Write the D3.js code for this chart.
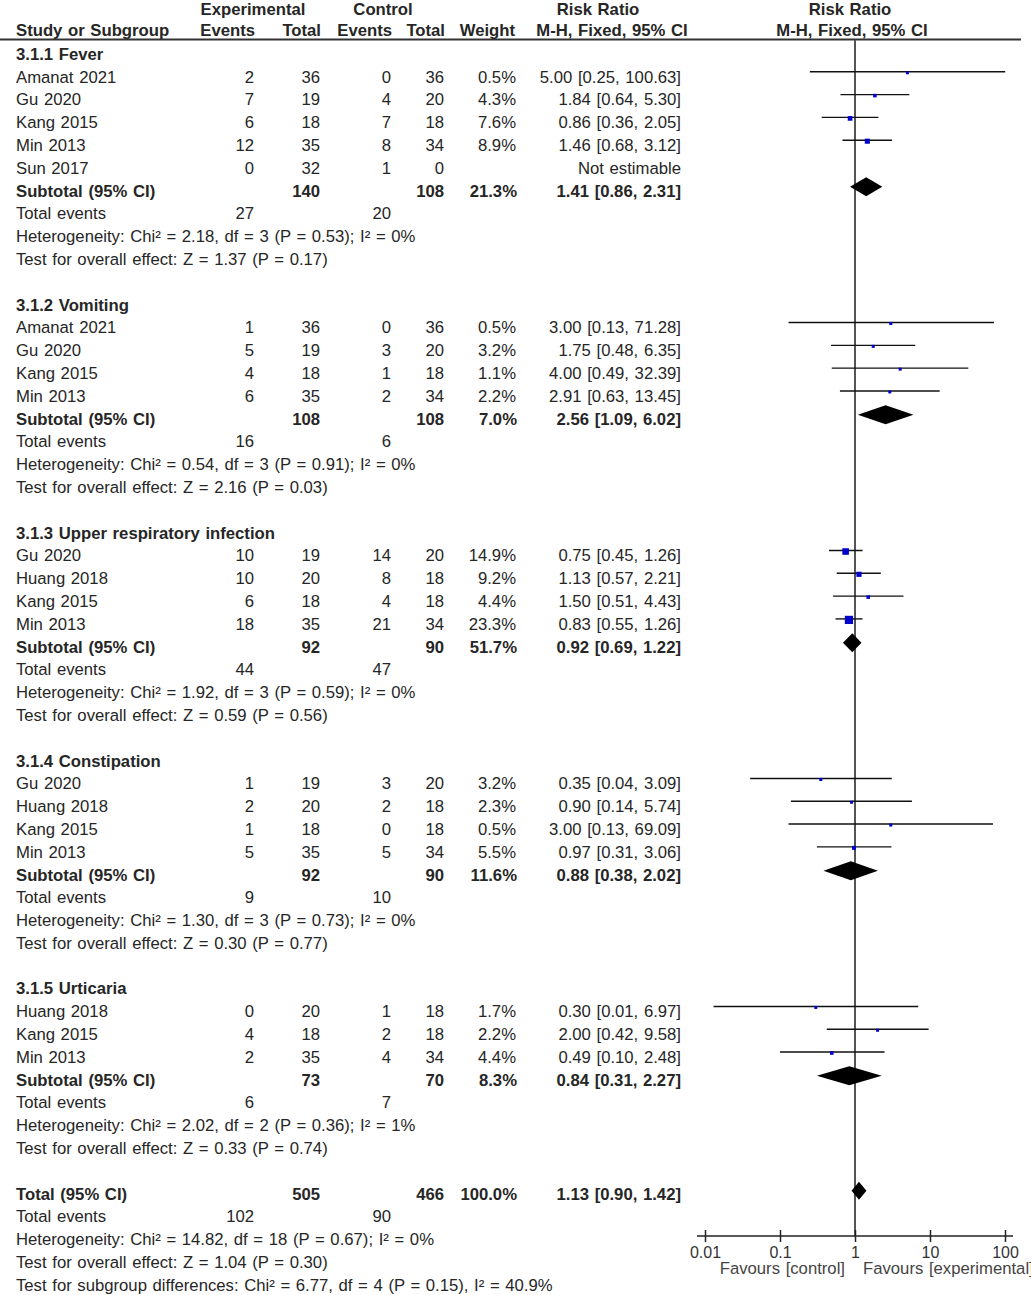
<!DOCTYPE html>
<html><head><meta charset="utf-8">
<script src="https://cdn.jsdelivr.net/npm/d3@7"></script>
<style>
html,body{margin:0;padding:0;background:#fff;overflow:hidden}
text{font-family:"Liberation Sans",Arial,Helvetica,sans-serif;font-size:16.7px;fill:#262626;word-spacing:1px}
.b{font-weight:bold}
</style>
</head><body><svg id="c" width="1031" height="1295"></svg>
<script>
// ---------- data ----------
const groupNames = ["3.1.1 Fever","3.1.2 Vomiting","3.1.3 Upper respiratory infection","3.1.4 Constipation","3.1.5 Urticaria"];
const studyNames = ["Amanat 2021","Gu 2020","Kang 2015","Min 2013","Sun 2017",
  "Amanat 2021","Gu 2020","Kang 2015","Min 2013",
  "Gu 2020","Huang 2018","Kang 2015","Min 2013",
  "Gu 2020","Huang 2018","Kang 2015","Min 2013",
  "Huang 2018","Kang 2015","Min 2013"];
const studyGroup = [0,0,0,0,0, 1,1,1,1, 2,2,2,2, 3,3,3,3, 4,4,4];
const expEvents = [2,7,6,12,0, 1,5,4,6, 10,10,6,18, 1,2,1,5, 0,4,2];
const expTotal  = [36,19,18,35,32, 36,19,18,35, 19,20,18,35, 19,20,18,35, 20,18,35];
const ctlEvents = [0,4,7,8,1, 0,3,1,2, 14,8,4,21, 3,2,0,5, 1,2,4];
const ctlTotal  = [36,20,18,34,0, 36,20,18,34, 20,18,18,34, 20,18,18,34, 18,18,34];
const weights   = [0.5,4.3,7.6,8.9,null, 0.5,3.2,1.1,2.2, 14.9,9.2,4.4,23.3, 3.2,2.3,0.5,5.5, 1.7,2.2,4.4];
const rr        = [5.00,1.84,0.86,1.46,null, 3.00,1.75,4.00,2.91, 0.75,1.13,1.50,0.83, 0.35,0.90,3.00,0.97, 0.30,2.00,0.49];
const rrLo      = [0.25,0.64,0.36,0.68,null, 0.13,0.48,0.49,0.63, 0.45,0.57,0.51,0.55, 0.04,0.14,0.13,0.31, 0.013,0.42,0.10];
const rrHi      = [100.63,5.30,2.05,3.12,null, 71.28,6.35,32.39,13.45, 1.26,2.21,4.43,1.26, 3.09,5.74,69.09,3.06, 6.97,9.58,2.48];

const subExpTotal = [140,108,92,92,73];
const subCtlTotal = [108,108,90,90,70];
const subWeight   = [21.3,7.0,51.7,11.6,8.3];
const subRR       = [1.41,2.56,0.92,0.88,0.84];
const subLo       = [0.86,1.09,0.69,0.38,0.31];
const subHi       = [2.31,6.02,1.22,2.02,2.27];
const subExpEvents= [27,16,44,9,6];
const subCtlEvents= [20,6,47,10,7];
const hetChi = [2.18,0.54,1.92,1.30,2.02];
const hetDf  = [3,3,3,3,2];
const hetP   = [0.53,0.91,0.59,0.73,0.36];
const hetI2  = [0,0,0,0,1];
const testZ  = [1.37,2.16,0.59,0.30,0.33];
const testP  = [0.17,0.03,0.56,0.77,0.74];

const totalCounts = [505,466];        // exp total, ctl total
const totalEvents = [102,90];
const totalRR = [1.13,0.90,1.42];     // est, lo, hi
const totalWeight = 100.0;
const totalHet = [14.82,18,0.67,0];   // chi2, df, P, I2
const totalTest = [1.04,0.30];        // Z, P
const subgroupDiff = [6.77,4,0.15,40.9];

const tickValues = [0.01,0.1,1,10,100];
const tickLabels = ["0.01","0.1","1","10","100"];
const favourLabels = ["Favours [control]","Favours [experimental]"];

// ---------- layout ----------
const svg = d3.select("#c");
const x = d3.scaleLog().domain([0.01,100]).range([705,1005]);
const yRow = d3.scaleLinear().domain([0,54]).range([54,1285]);
const col = {label:16, expE:254, expT:320, ctlE:391, ctlT:444, w:516, ci:681};
const f2 = v => v.toFixed(2);
const ciText = (e,l,h) => `${f2(e)} [${f2(l)}, ${f2(h)}]`;

// build rows
const rows = [];
let r = 0;
groupNames.forEach((g,gi) => {
  rows.push({type:"group", idx:r++, label:g});
  studyNames.forEach((s,si) => {
    if (studyGroup[si] !== gi) return;
    rows.push({type:"study", idx:r++, si});
  });
  rows.push({type:"subtotal", idx:r++, gi});
  rows.push({type:"events", idx:r++, a:subExpEvents[gi], b:subCtlEvents[gi]});
  rows.push({type:"note", idx:r++, label:`Heterogeneity: Chi² = ${f2(hetChi[gi])}, df = ${hetDf[gi]} (P = ${f2(hetP[gi])}); I² = ${hetI2[gi]}%`});
  rows.push({type:"note", idx:r++, label:`Test for overall effect: Z = ${f2(testZ[gi])} (P = ${f2(testP[gi])})`});
  r++; // blank
});
rows.push({type:"total", idx:r++});
rows.push({type:"events", idx:r++, a:totalEvents[0], b:totalEvents[1]});
rows.push({type:"note", idx:r++, label:`Heterogeneity: Chi² = ${f2(totalHet[0])}, df = ${totalHet[1]} (P = ${f2(totalHet[2])}); I² = ${totalHet[3]}%`});
rows.push({type:"note", idx:r++, label:`Test for overall effect: Z = ${f2(totalTest[0])} (P = ${f2(totalTest[1])})`});
rows.push({type:"note", idx:r++, label:`Test for subgroup differences: Chi² = ${f2(subgroupDiff[0])}, df = ${subgroupDiff[1]} (P = ${f2(subgroupDiff[2])}), I² = ${subgroupDiff[3]}%`});

// ---------- header ----------
const H = svg.append("g");
function txt(g, xx, yy, s, anchor, bold){
  g.append("text").attr("x",xx).attr("y",yy).attr("dy","0.35em")
   .attr("text-anchor",anchor||"start").attr("class",bold?"b":null).text(s);
}
const hy1 = 9.5, hy2 = 30;
txt(H,253,hy1,"Experimental","middle",true);
txt(H,383,hy1,"Control","middle",true);
txt(H,598,hy1,"Risk Ratio","middle",true);
txt(H,850,hy1,"Risk Ratio","middle",true);
txt(H,col.label,hy2,"Study or Subgroup","start",true);
txt(H,255,hy2,"Events","end",true);
txt(H,321,hy2,"Total","end",true);
txt(H,392,hy2,"Events","end",true);
txt(H,445,hy2,"Total","end",true);
txt(H,515,hy2,"Weight","end",true);
txt(H,612,hy2,"M-H, Fixed, 95% CI","middle",true);
txt(H,852,hy2,"M-H, Fixed, 95% CI","middle",true);
H.append("line").attr("x1",0).attr("x2",1021).attr("y1",39.5).attr("y2",39.5)
 .attr("stroke","#333").attr("stroke-width",2);

// ---------- null line ----------
const axisY = 1236;
svg.append("line").attr("x1",x(1)).attr("x2",x(1)).attr("y1",40).attr("y2",axisY)
  .attr("stroke","#555").attr("stroke-width",2);

// ---------- rows ----------
const T = svg.append("g");
const P = svg.append("g");
const sqSize = w => Math.max(3, 1.7*Math.sqrt(w));
function diamond(yc, e, l, h, hh){
  const pts = [[x(l),yc],[x(e),yc-hh],[x(h),yc],[x(e),yc+hh]];
  P.append("path").attr("d", d3.line()(pts)+"Z").attr("fill","#000");
}
rows.forEach(row => {
  const yc = yRow(row.idx);
  if (row.type==="group") txt(T,col.label,yc,row.label,"start",true);
  else if (row.type==="study") {
    const i = row.si;
    txt(T,col.label,yc,studyNames[i]);
    txt(T,col.expE,yc,expEvents[i],"end");
    txt(T,col.expT,yc,expTotal[i],"end");
    txt(T,col.ctlE,yc,ctlEvents[i],"end");
    txt(T,col.ctlT,yc,ctlTotal[i],"end");
    if (weights[i]!=null) {
      txt(T,col.w,yc,weights[i].toFixed(1)+"%","end");
      txt(T,col.ci,yc,ciText(rr[i],rrLo[i],rrHi[i]),"end");
      P.append("line").attr("x1",x(rrLo[i])).attr("x2",x(rrHi[i]))
        .attr("y1",yc-5).attr("y2",yc-5).attr("stroke","#111").attr("stroke-width",1.4);
      const s = sqSize(weights[i]);
      P.append("rect").attr("x",x(rr[i])-s/2).attr("y",yc-4-s/2).attr("width",s).attr("height",s)
        .attr("fill","#0000cc");
    } else {
      txt(T,col.ci,yc,"Not estimable","end");
    }
  } else if (row.type==="subtotal") {
    const gi = row.gi;
    txt(T,col.label,yc,"Subtotal (95% CI)","start",true);
    txt(T,col.expT,yc,subExpTotal[gi],"end",true);
    txt(T,col.ctlT,yc,subCtlTotal[gi],"end",true);
    txt(T,col.w+1,yc,subWeight[gi].toFixed(1)+"%","end",true);
    txt(T,col.ci,yc,ciText(subRR[gi],subLo[gi],subHi[gi]),"end",true);
    diamond(yc-4, subRR[gi], subLo[gi], subHi[gi], 9.5);
  } else if (row.type==="total") {
    txt(T,col.label,yc,"Total (95% CI)","start",true);
    txt(T,col.expT,yc,totalCounts[0],"end",true);
    txt(T,col.ctlT,yc,totalCounts[1],"end",true);
    txt(T,col.w+1,yc,totalWeight.toFixed(1)+"%","end",true);
    txt(T,col.ci,yc,ciText(totalRR[0],totalRR[1],totalRR[2]),"end",true);
    diamond(yc-3, totalRR[0], totalRR[1], totalRR[2], 9);
  } else if (row.type==="events") {
    txt(T,col.label,yc,"Total events");
    txt(T,col.expE,yc,row.a,"end");
    txt(T,col.ctlE,yc,row.b,"end");
  } else if (row.type==="note") {
    txt(T,col.label,yc,row.label);
  }
});

// ---------- axis ----------
const ax = svg.append("g").attr("transform",`translate(0,${axisY})`)
  .call(d3.axisBottom(x).tickValues(tickValues).tickFormat((d,i)=>tickLabels[i]).tickSize(6).tickPadding(5));
ax.select(".domain").remove();
ax.selectAll(".tick line").attr("y1",-6).attr("y2",6).attr("stroke","#222").attr("stroke-width",1.5);
ax.selectAll(".tick text").style("fill","#333").style("font-size","16px");
ax.append("line").attr("x1",x(0.01)-8).attr("x2",x(100)+8).attr("y1",0).attr("y2",0)
  .attr("stroke","#222").attr("stroke-width",1.5);
svg.append("text").attr("x",x(1)-10).attr("y",1268).attr("dy","0.35em").attr("text-anchor","end")
  .style("fill","#444").text(favourLabels[0]);
svg.append("text").attr("x",x(1)+8).attr("y",1268).attr("dy","0.35em").attr("text-anchor","start")
  .style("fill","#444").text(favourLabels[1]);
</script>
</body></html>
